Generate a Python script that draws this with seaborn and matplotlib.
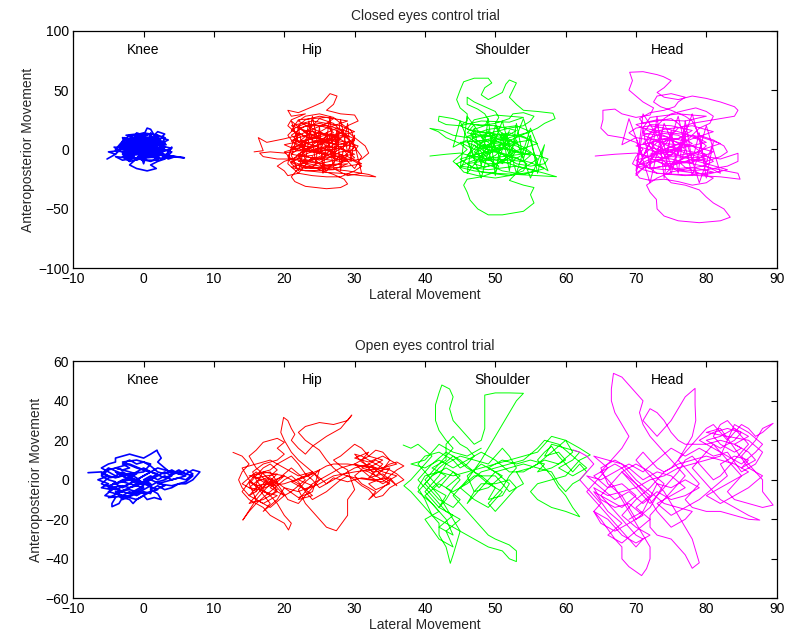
import numpy as np
import pandas as pd
import matplotlib
matplotlib.use("Agg")
import matplotlib.pyplot as plt
import seaborn as sns

# ---- sway trajectories (lateral, anteroposterior) ----
closed_knee = [
    (-5.2,-8),(-4,-4),(-5,-2),(-3.5,-1),(-4.2,2),(-2.5,1),(-3,6),(-2,5),(-2.8,10),(-1.5,8),(-1,14),(0,12),
    (0.5,18),(1,17),(1.5,12),(2,15),(3,13),(2.5,10),(3.5,8),(2.8,6),(3.2,4),(1.5,3),(2.5,0),(4,-2),(3.5,-5),
    (5.8,-7),(4,-6),(2,-8),(1,-10),(-0.5,-8),(-2,-10),(-3,-6),(-1.5,-4),(-2.5,-2),(-1,0),(-2,3),(0,2),(-1,6),
    (1,5),(0,8),(-1.5,10),(-2.5,12),(-1,13),(1,9),(2,7),(0.5,4),(1.5,1),(0,-2),(1.5,-5),(-0.5,-5),(-2,-13),
    (-1,-16),(0.5,-18),(1.8,-16),(1,-13),(2,-10),(3,-8),(0.5,-6),(-1,-3),(-3,-3),(-2,0),(-3.5,3),(-1.5,4),
    (-2,8),(0,6),(0.5,10),(2,11),(1,7),(2.5,3),(4,1),(3,-1),(1,-1),(0,1),(-1,-1),(-2.5,-7),(-4,-6),(-3,-9),
    (-1,-7),(0.5,-3),(2,-2),(3.5,-8),(4.5,-6),(2.5,-5),(0.5,0),(-1,3),(0.5,5),(2,4),(1,2),(0,0),
]
closed_knee_core = [
    (-2,2),(1,4),(-1,7),(2,9),(-1,11),(1,13),(-2,9),(0,6),(2,3),(-1,1),(-3,-2),(0,-4),(2,-6),(-1,-8),
    (-2,-5),(1,-3),(3,-1),(0,1),(-3,4),(-1,5),(2,6),(0,8),(-3,7),(-2,4),(0,3),(3,5),(1,8),(-1,9),(-2,11),
    (0,14),(2,12),(3,10),(1,7),(-1,3),(-3,0),(-1,-2),(1,-1),(3,2),(2,-3),(0,-6),(-2,-8),(-3,-4),(-1,-4),
    (1,-6),(3,-4),(4,-6),(2,-4),(0,-1),(-2,1),(-4,-1),(-2,-3),(0,-2),(2,1),(1,3),(-1,5),(-2,8),(0,10),
    (2,8),(3,6),(1,2),(-1,-1),(-2,-6),(0,-9),(2,-9),(1,-4),(-1,0),(0,4),(2,5),(0,7),(-2,6),(-3,3),(-1,2),(1,0),
    (-3,10),(-2,-10),(-1,12),(0,-8),(1,14),(2,-9),(3,10),(2,-4),(1,8),(0,-12),(-1,6),(-2,-6),(-3,4),
    (-4,-4),(-2,8),(0,-4),(2,6),(3,-6),(4,2),(3,-8),(1,11),(-1,-9),(-3,7),(-4,0),(-2,12),(0,-10),(2,12),(3,0),
]
closed_hip = [
    (15.7,-2),(17,-1),(16.3,10),(17.5,6),(20,9),(22,12),(20.5,20),(21,25),(23,30),(21,28),(20.5,33),(22,31),
    (24,36),(25.5,40),(26.5,47),(27.5,45),(27,38),(26,33),(28,30),(30,29),(30.5,24),(29,20),(28,14),(26,8),
    (24,2),(22,-4),(21,-10),(23,-14),(26,-16),(29,-18),(32,-21),(33,-23),(31,-22),(28,-20),(25,-19),(22,-17),
    (21,-12),(20.5,-6),(21,0),(22.5,5),(24,10),(26,14),(27.5,18),(29,15),(30,10),(31.5,3),(32,-3),(31,-8),
    (29,-10),(27,-7),(25,-3),(23,1),(21.5,6),(22,12),(24,17),(26,22),(27,26),(25,28),(23,25),(22,20),(23,14),
    (25,10),(27,5),(28.5,0),(29,-5),(28,-12),(26,-13),(24,-10),(22.5,-8),(19,-8),(17,-6),(16.5,-3),(18,-2),
    (20,-3),(22,-1),(24,-2),(26,-4),(28,-6),(30,-10),(31,-14),(30,-18),(28,-23),(26,-23),(24,-22),(22,-20),
    (20.5,-22),(20,-18),(19,-14),(20,-10),(22,-6),(24,-5),(26,0),(27,4),(28,9),(28.5,13),(27,17),(25,20),
    (23,22),(21.5,18),(20.5,12),(21,8),(23,6),(25,6),(27,8),(29,6),(30.5,3),(30,-1),(28,-2),(26,-8),(24,-14),
    (22,-16),(21,-23),(21.5,-27),(23,-31),(26,-33),(28,-32),(29,-29),(28.5,-25),(27,-21),(25,-17),(23,-12),
    (22,-6),(23,-2),(25,1),(27,2),(29,3),(30,8),(29.5,16),(28,22),(27,27),(25,30),(23,28),(22,24),(23.5,19),
    (25,15),(26.5,11),(26,6),(24.5,3),(23,0),(22,3),(21,7),(22,10),
]
closed_hip_core = [
    (25,14),(28,9),(24,6),(21,2),(24,-2),(28,1),(30,-4),(26,-7),(22,-10),(25,-14),(29,-12),(27,-17),(23,-18),
    (21,-15),(24,-9),(27,-3),(29,5),(27,12),(23,16),(21,20),(24,24),(28,20),(30,15),(27,10),(25,4),(22,-1),
    (20,4),(23,8),(26,18),(29,24),(26,27),(22,25),(21,16),(23,11),(27,7),(30,2),(28,-8),(25,-12),(21,-8),
    (20,-2),(23,3),(26,-1),(29,-6),(31,-12),(28,-15),(24,-16),(22,-13),(25,-6),(27,0),(26,6),(24,12),(22,18),
    (25,22),(28,17),(29,11),(26,9),(23,5),(21,-4),(24,-7),(28,-10),(30,-7),(29,-1),(26,3),(23,-4),(21,-11),
    (23,-16),(27,-14),(29,-9),(27,-5),(24,0),(22,6),(24,9),(27,14),(26,20),(23,20),(21,12),(22,7),(25,2),
    (27,-2),(25,-9),(22,-4),(24,4),(26,11),(28,14),(30,9),(28,4),(24,8),(22,14),
    (21,-5),(22,-18),(23,5),(23.5,24),(24.5,-12),(25,20),(25.5,-20),(26,8),(26.5,28),(27,-8),(27.5,18),
    (28,-18),(28.5,6),(29,22),(29.5,-10),(30,12),(29,-2),(28,25),(27,-14),(26,14),(25,-4),(24,28),(23,-10),
    (22,18),(21,2),(20.5,-12),(22,-20),(24,-6),(26,-18),(28,-4),(30,-16),(31,-6),(29,10),(27,22),(25,26),
    (23,14),(21,24),(22,6),(24,16),(26,2),(28,14),(30,4),(31,-20),(29,-22),(27,-16),
]
closed_shoulder = [
    (40.7,-5.5),(43,-4),(45,-3),(47,-6),(49,-8),(51,-10),(53,-14),(55,-17),(57,-20),(58.7,-22.9),(56,-22),
    (53,-21),(50,-20),(47,-18),(45,-15),(44,-10),(45,-5),(46,0),(45,5),(43,10),(41.9,15),(40.7,17.8),
    (42.5,16),(44,12),(46,10),(48,12),(50,15),(52,18),(54,20),(55,24),(55.5,28),(54,31),(52.5,30),(52,26),
    (50,22),(48,20),(46,22),(44,26),(42,28),(41.9,24),(43,21),(45,20),(46,24),(46,30),(45,35),(44.5,42),
    (45,50),(45.5,57),(47,60),(49,60),(49.5,56),(48.5,52),(48,46),(49,42),(51,48),(51.5,55),(52,58.5),
    (53,56),(52.5,50),(52,44),(53,38),(54,33),(56,32),(58.2,30.5),(58.5,26),(57,22),(56,18),(54.5,14),
    (53,10),(51,5),(50,0),(49,-3),(48,0),(49,4),(50,8),(51,4),(52,0),(54,-3),(56,-5),(57.5,-8),(57,-12),
    (55,-14),(53,-12),(52,-8),(51,-4),(49.5,1),(48,5),(47,9),(46.5,13),(47,17),(48.5,20),(49,25),(48.5,30),
    (47.5,34),(46,38),(46,44),(47,40),(48.5,36),(50,32),(50.5,27),(50,22),(50.5,16),(51.5,11),(52,6),(51,2),
    (49.5,-2),(48,-5),(46,-8),(44.5,-12),(45.5,-19),(47.5,-22),(50,-24),(52,-22),(54,-18),(54.5,-12),
    (53,-7),(51,-3),(49,0),(47.5,2),(46,6),(47,10),(49,12),(51,10),(52.5,6),(54,2),(55,-2),(56,-8),(55,-12),
    (53.5,-17),(52,-26),(54,-30),(55.5,-32),(55,-38),(55.5,-45),(54,-52),(51,-55),(49,-55),(47.5,-50),
    (46.4,-42.5),(46,-36),(45.5,-30),(46,-25),(48,-23),(50,-19),(50.5,-14),(49.5,-10),(48,-6),(47,-2),
    (48,3),(50,5),(52,3),(53,-1),(52.5,-5),(51.5,-9),(50,-12),(48.5,-15),(47,-12),(47.5,-8),(49,-4),
    (50,0),(49,6),(48,10),
]
closed_shoulder_core = [
    (52,14),(55,8),(51,4),(47,0),(45,6),(49,8),(53,3),(55,-3),(51,-6),(47,-9),(45,-14),(49,-17),(53,-14),
    (56,-18),(52,-22),(48,-19),(46,-12),(50,-8),(54,-10),(55,-5),(52,0),(48,3),(46,11),(49,17),(53,20),
    (55,15),(52,10),(49,4),(47,-4),(50,-2),(53,5),(51,12),(47,15),(45,20),(48,24),(52,23),(54,27),(50,29),
    (47,25),(46,17),(50,13),(54,11),(56,5),(53,-1),(50,-13),(47,-16),(45,-8),(48,-3),(51,1),(54,-4),
    (52,-11),(49,-12),(46,-5),(48,6),(51,9),(53,16),(50,20),(47,21),(46,14),(49,11),(52,7),(50,-5),
    (48,-10),(51,-18),(54,-21),(57,-16),(55,-11),(52,-6),(49,0),(47,6),(50,10),
    (46,-20),(47,18),(48,-14),(49,26),(50,-22),(51,14),(52,-18),(53,22),(54,-8),(55,12),(56,-20),(57,4),
    (55,-24),(53,8),(51,-12),(49,16),(47,-6),(45,24),(44,2),(46,8),(48,-24),(50,20),(52,-4),(54,26),
    (56,-12),(57.5,-18),(55,18),(53,-20),(51,24),(49,-8),(47,4),(45,-16),(46,28),(48,12),(50,-16),(52,16),
]
closed_head = [
    (64.2,-5.5),(67,-4),(70,-3),(72,-6),(75,-8),(78,-12),(81,-16),(84.5,-20),(84.8,-25),(82,-23),(79,-22),
    (76,-21),(73,-20),(71,-17),(69.5,-12),(70,-6),(71,0),(70,6),(68,10),(66,12),(65,18),(65.3,25),(65.3,33),
    (67,34),(68,30),(70,27),(72,29),(72.5,35),(71,40),(70,45),(69,50),(69.5,58),(69.1,65),(71,65.5),(73,63),
    (73.9,61.3),(75,58),(74,52),(73,48),(74,44),(76,42),(78,45),(80,43),(82,40),(84,36),(84.5,33),(84,28),
    (82,26),(80,24),(78,22),(76,18),(75,12),(74,6),(73,0),(74,-4),(76,-5),(78,-3),(80,-6),(82,-8),
    (84.5,-3.2),(84.5,-10),(83,-14),(80,-17),(77,-18),(75,-15),(74,-10),(73,-5),(72,2),(71.5,8),(72,14),
    (73,20),(74,26),(75,30),(77,33),(78.5,35),(80,32),(81,28),(80.5,22),(79,18),(78,12),(77,6),(76,0),
    (75,-4),(73.5,-8),(72,-12),(71,-16),(70,-20),(70.5,-24),(72,-26),(74,-25),(76,-27),(78,-30),(80,-28),
    (81,-24),(79,-20),(77,-15),(76,-10),(77,-6),(79,-2),(80,3),(79,8),(77.5,12),(76,15),(74,18),(72,20),
    (70,18),(69,14),(70,10),(72,8),(74,9),(76,6),(78,3),(79,-1),(80,-5),(81,-10),(79.5,-14),(77.5,-16),
    (75,-19),(73,-24),(71.5,-30),(72,-36),(72.9,-42),(73,-50),(74,-56),(76,-60),(79,-61.6),(82,-60),
    (83.4,-57),(82.5,-50),(81,-45),(80,-40),(79,-34),(77,-30),(75,-28),(74,-22),(75,-15),(76.5,-8),(77,0),
    (76,5),(75,9),(73.5,13),(72,10),(71,5),(72.5,1),(74.5,-2),(76,2),(77,8),(77,15),(76,22),(75,26),(73,24),
    (71,22),(70.5,26),(72,31),(74,33),(75.5,36),(76,40),(77,44),(75,47),(73,45),(72.5,40),(73.5,36),(75,33),
    (77,28),(78,24),(78.5,18),(79,12),(81,8),(82.5,3),(83,-2),(82,-6),(80,-10),(78,-8),(76,-12),(74,-14),
    (72,-16),(70.5,-12),(71,-8),(72.5,-4),(74,0),(75.5,4),(75,8),
]
closed_head_core = [
    (78,12),(80,6),(77,2),(73,-2),(70,3),(73,7),(77,-3),(80,-8),(76,-11),(72,-8),(70,-14),(74,-17),(78,-15),
    (81,-19),(77,-22),(73,-20),(71,-12),(75,-6),(79,-7),(81,-2),(78,3),(74,5),(71,12),(74,17),(78,20),
    (81,15),(78,9),(75,2),(72,-4),(75,-2),(78,5),(76,12),(72,15),(70,21),(73,25),(77,24),(80,28),(76,30),
    (72,27),(71,18),(75,14),(79,11),(82,5),(79,-1),(75,-13),(72,-16),(70,-9),(73,-4),(76,0),(80,-4),
    (78,-11),(74,-12),(71,-5),(73,6),(76,9),(78,16),(75,20),(72,21),(71,14),(74,11),(77,7),(75,-5),
    (73,-10),(76,-18),(80,-21),(83,-17),(80,-12),(77,-7),(74,0),(72,6),(75,10),
    (70,-22),(71,18),(72,-16),(73,28),(74,-24),(75,16),(76,-20),(77,24),(78,-10),(79,14),(80,-24),(81,6),
    (79,-28),(77,10),(75,-14),(73,20),(71,-6),(69,26),(68,4),(70,10),(72,-28),(74,22),(76,-4),(78,30),
    (80,-14),(82,-20),(80,20),(78,-22),(76,28),(74,-8),(72,6),(70,-18),(71,30),(73,12),(75,-20),(77,18),
]

open_knee = [
    (-7.9,3.6),(-6,4),(-5,2),(-6.5,0),(-5,-2),(-6,-4),(-4.5,-5),(-5.5,-8),(-4,-9),(-4.5,-12),(-4.5,-13.6),
    (-3.5,-12),(-3,-9),(-2,-10),(-1.5,-12),(-1,-10),(0,-8),(0.5,-10),(1.5,-9),(2.5,-10),(2,-7),(1,-5),(2,-3),
    (3,-5),(4,-4),(5,-2),(6,-2),(7,0),(7.5,2),(8,4),(7,5),(6,3),(5,5),(4,3),(3,6),(2,9),(2.5,11),(2,14),
    (1.9,15),(1,13),(0,11),(-1,12),(-2,13),(-3,12),(-4,11),(-4,9),(-5,8),(-6,6),(-5,4),(-4,2),(-3,4),(-2,2),
    (-1,4),(0,6),(1,4),(0,2),(-1,0),(-2,-2),(-3,-4),(-4,-2),(-3,0),(-2,1),(-1,-1),(0,-3),(-1,-5),(-2,-7),
    (-3,-6),(-4,-4),(-5,-6),(-4,-7),(-3,-8),(-2,-6),(-1,-8),(0,-6),(1,-7),(1,-2),(0,0),(1,2),(2,0),(3,2),
    (4,0),(5,1),(6,0),(7,3),(6,5),(5,3),(4,5),(3,3),(2,4),(1,7),(0,9),(-1,8),(-2,10),(-3,8),(-2,6),(-3,5),
    (-4,6),(-5,5),(-6,2),(-5,0),(-4,-1),(-5,-4),(-3,-3),(-2,-4),(-1,-3),(0,-1),(1,-3),(2,-1),(3,0),(4,2),
    (3,4),(2,2),(1,0),(0,-2),(-1,1),(-2,3),(-3,2),(-4,4),
]
open_knee_core = [
    (-2,0),(-5,-3),(-3,-6),(-5,-9),(-2,-8),(0,-4),(-3,-1),(-1,3),(-4,6),(-2,8),(0,5),(2,3),(0,-1),(-2,-4),
    (-4,-7),(-1,-10),(1,-6),(3,-3),(1,0),(-1,-2),(-3,2),(-5,1),(-6,-2),(-4,-5),(-2,-2),(0,2),(2,6),(4,4),
    (6,2),(4,0),(2,-2),(4,-3),(6,-1),(7,2),(5,4),(3,1),(1,4),(-1,6),(-3,9),(-1,10),(1,8),(0,4),(-2,3),
    (-4,1),(-6,3),(-5,6),(-3,3),(-1,0),(1,-3),(-1,-7),(-3,-10),(-4,-6),(-2,-5),(0,-7),(2,-5),(0,-2),
    (-2,1),(-4,-2),
]
open_hip = [
    (12.7,13.9),(14,12),(15,8),(14,4),(13.5,0),(14,-4),(15,-8),(16,-6),(17,-2),(18,2),(19,5),(18,8),(17,6),
    (16,2),(15,-2),(16,-10),(14.1,-20.4),(15,-16),(16,-12),(17,-14),(18,-18),(19,-20),(20,-22),(20.6,-25.4),
    (21,-22),(20,-18),(19,-12),(18,-8),(17,-5),(16,0),(15.5,4),(17,8),(19,10),(20,13),(19,16),(20,19),
    (19,21),(17,19),(16,15),(15,12),(16,6),(18,0),(19,-4),(20,-8),(21,-6),(22,-3),(23,0),(22,3),(21,6),
    (20,3),(19,0),(18,-3),(16.5,-5),(15,-4),(16,-1),(17.5,1),(19,-2),(20.5,-10),(22,-12),(23,-8),(24,-4),
    (25,0),(24,4),(23,7),(22,10),(21,14),(20,20),(19.5,24),(19.9,31.6),(20.5,30),(21,26),(21.5,23),(21,20),
    (22,16),(23,13),(24,17),(26,22),(28,26),(29.6,32.8),(29,30),(27,28),(25,29),(23,27),(22,24),(23,20),
    (25,15),(26,10),(27,6),(28,3),(30,1),(32,0),(34,-1),(35,2),(36,5),(37,7),(36,9),(35,8),(34,6),(33,8),
    (32,10),(31,12),(30,13),(31,9),(33,5),(34,2),(35,-1),(34,-4),(33,-7),(32,-10),(33,-6),(31,-2),(30,2),
    (31,5),(32,4),(33,2),(34,5),(35,10),(34,14),(33,15),(32,12),(31,16),(30,18),(29,15),(28,12),(27,10),
    (28,7),(29,5),(30,-5),(29,-10),(29,-18),(27.4,-25.8),(26,-24),(25,-20),(24,-16),(23,-12),(22,-5),
    (23,-1),(24,2),(25,5),(26,7),(27,8),(29,8),(31,7),(33,6),(35,5),(36,3),(37,0),(36,-2),(35,-4),(34,-8),
    (33,-9),(32,-5),(31,-3),(30,0),(29,2),(28,0),(27,-3),(26,-6),(25,-8),(24,-10),(23,-6),(22,-1),(21,2),
    (20,0),(19,-3),(18,-6),(17,-9),(16,-12),(15,-10),(14,-6),(15,-1),(16,3),(17,4),(18,5),(19,8),(20,10),
    (21,12),(22,8),(23,3),(24,0),(25,-4),(26,-2),(27,1),(29,-1),(31,1),(33,0),(35,1),(36,-3),
]
open_hip_core = [
    (34,3),(32,1),(34,8),(33,10),(31,6),(33,4),(35,6),(34,1),(32,-2),(33,-5),(35,-2),(33,2),(31,10),(32,14),
    (30,11),(32,9),(34,12),(36,8),(34,6),(32,5),(30,4),(27,2),(25,-2),(23,-5),(21,-1),(23,2),(25,5),
    (24,-6),(22,-9),(20,-4),(22,-6),(24,-3),(22,0),(24,3),(20,-2),(18,-3),(16,1),(19,3),(17,-4),(15,-1),
    (18,-8),(19,-5),(17,0),(15,2),(18,4),(19,-1),(16,-3),(18,-12),(17,-16),(19,-10),(20,-4),(18,1),
    (16,-8),(15,-12),(17,-10),(19,-6),(18,-1),(20,2),(17,4),(16,-2),(16,-6),
    (14,-2),(16,4),(18,-2),(16,-10),(18,-14),(20,-8),(18,-4),(20,2),(22,-2),(24,-8),(22,-10),(24,-2),
    (26,2),(28,6),(30,8),(32,6),(34,10),(32,12),(30,8),(32,2),(34,-2),(36,2),(34,4),(32,8),(30,6),(28,2),
    (26,-2),(24,4),(22,2),(20,6),(18,10),(16,8),(14,6),(15,0),(17,-6),(19,-8),(17,-12),(15,-8),(16,-4),
]
open_shoulder = [
    (36.9,17.6),(38,16),(39,18),(40,15),(41,12),(40,8),(39,4),(38,0),(37,-3),(38,-6),(39,-10),(40,-14),
    (41,-18),(42,-22),(42,-28),(43,-34),(43.6,-42.3),(44,-38),(44.5,-32),(45,-26),(44,-20),(43,-14),(42,-8),
    (41,-4),(40,0),(41,4),(42,8),(43,12),(44,16),(43,20),(42,25),(41.5,30),(41.5,38),(42,44),(42.4,48),
    (43.5,46),(44,42),(43.5,36),(44,30),(45,26),(46,22),(47,18),(48,20),(48.5,26),(48.5,32),(48.5,38),
    (48.5,42.9),(50,44),(52,44),(54,43.8),(53,40),(52,34),(51,28),(50,22),(49,16),(48,10),(47,5),(46,0),
    (45,-4),(44,-8),(45,-12),(46,-16),(47,-20),(48,-24),(49,-28),(50,-30),(52,-33),(53,-36),(53,-41.4),
    (52,-40),(51,-36),(49,-34),(47,-30),(45,-26),(43,-22),(41,-18),(40,-10),(39,-4),(40,2),(42,4),(44,2),
    (46,4),(48,6),(50,8),(52,10),(54,12),(56,14),(57,18),(58,22),(60,20),(61,18),(62,16),(63.5,12.6),
    (62,10),(61,6),(60,2),(58,0),(56,-2),(55,-6),(56,-10),(58,-14),(60,-16),(62,-18.7),(61,-14),(60,-8),
    (59,-4),(58,2),(57,6),(56,10),(57,14),(58,17),(59,12),(60,8),(61,4),(62,8),(63,4),(62,0),(61,-2),
    (60,-6),(59,-2),(58,4),(56,6),(54,8),(52,6),(50,4),(49,0),(48,-4),(47,-8),(46,-12),(47,-6),(48,-2),
    (50,-2),(52,0),(53,-4),(52,-8),(51,-12),(50,-16),(49,-12),(50,-8),(51,-4),(52,2),(53,6),(52,12),
    (51,16),(50,12),(49,8),(47,10),(45,12),(43,8),(42,2),(41,-2),(40,-6),(41,-10),(42,-14),(43,-10),
    (44,-4),(45,0),(44,4),(43,0),(42,-4),(41,0),(40,4),(39,8),(40,12),(42,14),(44,10),(45,6),(46,8),
    (47,12),(46,16),(45,18),(44,22),(43,18),
]
open_shoulder_core = [
    (43,10),(41,6),(43,2),(41,-4),(43,-8),(42,-14),(44,-18),(42,-24),(44,-28),(43,-20),(41,-12),(39,-6),
    (41,2),(43,6),(45,2),(43,-4),(45,-10),(44,-14),(42,-10),(40,-2),(42,6),(44,12),(46,6),(48,2),(50,-4),
    (49,-10),(51,-8),(52,-2),(50,4),(48,8),(46,2),(47,-6),(49,-4),(51,2),(49,6),(51,10),(53,8),(55,10),
    (57,8),(56,4),(58,6),(60,10),(59,14),(57,12),(58,18),(60,16),(62,14),(61,10),(59,6),(61,2),(63,6),
    (61,12),(59,18),(57,20),(56,16),
    (54,10),(52,8),(50,6),(48,4),(46,-2),(44,-6),(42,-2),(40,-8),(42,-16),(40,-20),(42,-30),(44,-34),
    (43,-26),(45,-20),(43,-16),(41,-8),(39,0),(41,8),(43,14),(45,10),(47,4),(49,-2),(51,-6),(49,-14),
    (47,-10),(45,-4),(47,2),(50,2),(52,-6),(54,-2),(53,4),(55,6),(57,10),(59,8),(61,14),(60,20),(58,14),
    (56,8),(54,4),(52,4),(50,10),(48,14),(46,10),(44,6),(42,10),(40,6),(38,8),(40,10),(42,18),(44,14),
    (46,12),(48,16),
]
open_head = [
    (61.1,15.1),(62,14),(63,12),(64,8),(63,4),(62,0),(63,-4),(64,-8),(65,-12),(64,-16),(65,-20),(66,-25),
    (67,-30),(68,-34),(68,-40),(69,-44),(70.8,-48.5),(71.5,-45),(72,-40),(72,-34),(71,-28),(70,-22),
    (69,-16),(68,-10),(67,-4),(66,0),(65,4),(66,8),(67,12),(68,16),(69,22),(68,28),(67,34),(66.5,40),
    (66.5,46),(66.8,53.9),(68,52),(69,48),(70,44),(71,40),(70.5,34),(71,28),(72,22),(73,18),(74,14),
    (75,10),(76,6),(77,2),(76,-2),(75,-6),(74,-10),(73,-14),(72,-18),(72,-24),(73,-28),(75,-30),(76,-34),
    (77,-38),(78,-44.8),(79,-42),(78.5,-36),(78,-30),(77,-24),(76,-18),(75,-12),(74,-6),(73,-2),(72,2),
    (71,6),(70,10),(71,14),(72,10),(73,6),(74,4),(75,6),(76,10),(77,14),(78,18),(79,22),(80,26),(81,28),
    (82,24),(83,20),(84,24),(85,28),(86,26),(87,22),(88,24),(89.5,28.6),(88,26),(87,20),(86,16),(85,12),
    (86,8),(87,4),(88,0),(88,-6),(89.5,-12.8),(88,-14),(86,-12),(84,-10),(83,-6),(84,-2),(85,2),(84,6),
    (83,10),(82,14),(81,18),(80,14),(79,10),(78,6),(79,2),(80,-2),(81,-6),(82,-10),(84,-14),(86,-18),
    (87.6,-20.4),(86,-20),(84,-18),(82,-16),(80,-16),(78,-14),(77,-10),(78,-6),(79,-2),(78,2),(77,6),
    (76,10),(77,16),(78,22),(78.5,30),(78.4,38),(78.4,46.3),(77,42),(76,36),(75,30),(74,26),(73,22),
    (72,26),(71,30),(72,36),(73,34),(74,30),(75,24),(76,20),(77,18),(80,18),(82,20),(84,18),(85,16),
    (84,14),(83,16),(82,18),(81,22),(82,28),(83,30),(84,26),(85,22),(86,18),(85,14),(84,10),(83,6),(82,2),
    (81,0),(80,4),(79,8),(78,12),(77,10),(76,4),(75,0),(74,-4),(73,-8),(72,-12),(71,-8),(70,-4),(69,0),
    (68,4),(67,0),(66,-4),(65,-8),(66,-12),(67,-16),(68,-20),(69,-24),(70,-28),(71,-30),(70,-34),(69,-30),
    (68,-26),(67,-22),(66,-18),(65,-14),(64,-10),(63,-6),(64,-2),(65,2),(66,6),(67,8),(68,6),(69,2),
    (70,-2),(71,-6),(72,-10),(73,-16),(74,-20),(75,-24),(76,-22),(77,-20),(78,-16),(76,-14),(74,-12),
    (72,-6),(70,0),(69,4),(68,8),(66,10),(64,12),
]
open_head_core = [
    (66,6),(64,2),(66,-4),(68,-2),(70,-8),(68,-14),(66,-10),(64,-6),(66,-16),(68,-22),(66,-28),(68,-32),
    (70,-26),(72,-20),(70,-14),(72,-8),(70,-2),(68,4),(70,8),(72,4),(74,-2),(72,-14),(70,-20),(68,-8),
    (66,-2),(65,6),(67,10),(69,6),(71,0),(73,4),(75,2),(77,-4),(75,-8),(73,-12),(75,-18),(77,-14),(79,-10),
    (81,-4),(83,2),(82,8),(84,12),(86,10),(85,6),(87,10),(86,14),(84,18),(86,22),(84,26),(82,22),(80,20),
    (82,16),(84,20),(85,24),(83,26),(81,24),(79,20),(81,16),(83,12),(85,8),(87,14),(88,18),(86,24),(84,28),
    (82,12),(80,10),(78,8),(76,6),(74,2),(72,0),(70,-4),(68,-6),(66,-8),(64,-4),(65,-10),(67,-14),(69,-12),
    (71,-18),(69,-22),(67,-26),(65,-22),(64,-16),(66,-20),(68,-28),(70,-32),(72,-28),(70,-24),(68,-18),
    (70,-10),(72,-4),(74,4),(76,8),(78,10),(80,12),(82,10),(84,8),(86,4),(84,0),(82,-4),(80,-8),(82,-12),
    (84,-8),(86,-4),(88,2),(86,6),(84,16),(82,26),(80,24),(83,22),(86,20),(88,14),(87,8),(85,4),(83,14),
    (81,12),(79,16),(77,12),(75,16),(73,10),(71,4),(69,8),(67,4),(65,0),(63,2),(65,-4),(67,-10),(69,-6),
    (71,-12),(73,-6),(75,-10),(77,-8),(79,-4),(77,0),(75,-4),(73,-2),(71,-16),(69,-20),
]

segments = ["Knee", "Hip", "Shoulder", "Head"]
segment_colors = ["#0000ff", "#ff0000", "#00ff00", "#ff00ff"]
label_x = [0, 24, 51, 74.5]

trials = [
    ("Closed eyes control trial",
     [closed_knee + closed_knee_core, closed_hip + closed_hip_core,
      closed_shoulder + closed_shoulder_core, closed_head + closed_head_core],
     (-100, 100), [-100, -50, 0, 50, 100], 84),
    ("Open eyes control trial",
     [open_knee + open_knee_core, open_hip + open_hip_core,
      open_shoulder + open_shoulder_core, open_head + open_head_core],
     (-60, 60), [-60, -40, -20, 0, 20, 40, 60], 50.5),
]
x_ticks = [-10, 0, 10, 20, 30, 40, 50, 60, 70, 80, 90]

sns.set_style("white")
plt.rcParams["font.family"] = ["Liberation Sans", "DejaVu Sans"]
plt.rcParams["font.size"] = 10

fig = plt.figure(figsize=(7.88, 6.43), dpi=100)
axes_rects = [[0.093, 0.5827, 0.8926, 0.3696], [0.093, 0.0695, 0.8926, 0.3686]]

for rect, (title, traces, ylim, yticks, label_y) in zip(axes_rects, trials):
    ax = fig.add_axes(rect)
    for name, color, pts in zip(segments, segment_colors, traces):
        df = pd.DataFrame(pts, columns=["lateral", "ap"])
        lw = 1.2 if name == "Knee" else 0.7
        sns.lineplot(data=df, x="lateral", y="ap", sort=False, estimator=None,
                     color=color, lw=lw, ax=ax)
    for name, lx in zip(segments, label_x):
        ax.text(lx, label_y, name, ha="center", va="center", fontsize=10, color="black")
    ax.set_xlim(-10, 90)
    ax.set_ylim(*ylim)
    ax.set_xticks(x_ticks)
    ax.set_yticks(yticks)
    ax.set_yticklabels([str(v).replace("-", "\u2212") for v in yticks])
    ax.set_xticklabels([str(v).replace("-", "\u2212") for v in x_ticks])
    ax.tick_params(direction="in", length=4, width=0.8, top=True, right=True,
                   labelsize=10, pad=3, colors="black")
    for sp in ax.spines.values():
        sp.set_visible(True)
        sp.set_color("black")
        sp.set_linewidth(0.9)
    ax.set_title(title, fontsize=10, pad=8)
    ax.set_xlabel("Lateral Movement", fontsize=10, labelpad=1)
    ax.set_ylabel("Anteroposterior Movement", fontsize=10, labelpad=2)

fig.savefig("out.png", dpi=100)
